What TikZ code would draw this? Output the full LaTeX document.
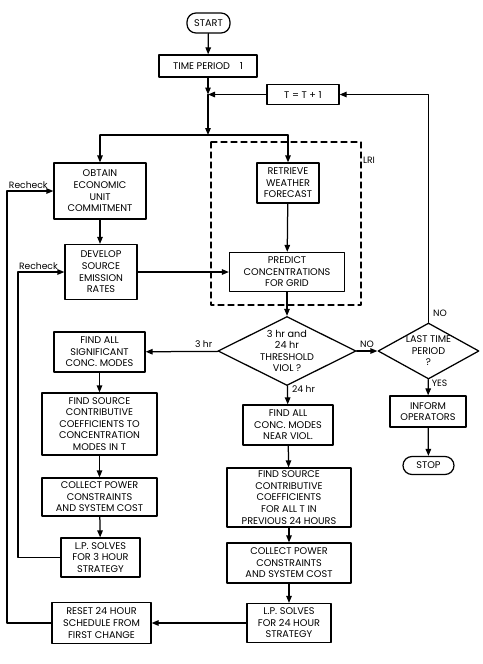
\documentclass[tikz,border=0pt]{standalone}
\usepackage{fontspec}
\setmainfont{Poppins}
\usepackage{tikz}
\usetikzlibrary{arrows.meta, calc, positioning, shapes.geometric}

\begin{document}
\begin{tikzpicture}[x=1pt, y=-1pt, line cap=round, line join=round, >={Triangle[length=7pt,width=5.5pt]},
    box/.style={draw, line width=1.25pt, align=center, inner sep=1pt, font=\fontsize{9.7}{11.6}\selectfont},
    term/.style={box, rounded corners=9pt},
    decision/.style={box, diamond, inner sep=-12pt},
    flow/.style={->, line width=1.25pt},
    lbl/.style={font=\fontsize{9.2}{10}\selectfont, inner sep=1pt}]
    \useasboundingbox (0,0) rectangle (482,664);

    % start and time loop
    \node[term, minimum width=43, minimum height=20] (start) at (208.5,23) {START};
    \node[box, minimum width=98, minimum height=22] (tp) at (208,66) {TIME PERIOD\quad 1};
    \node[box, minimum width=72, minimum height=20] (tinc) at (303,94.5) {T = T + 1};
    \coordinate (j1) at (208,94.5);
    \coordinate (j2) at (208,135);

    % emission side
    \node[box, minimum width=92, minimum height=56] (obtain) at (100,191) {OBTAIN\\ECONOMIC\\UNIT\\COMMITMENT};
    \node[box, minimum width=72, minimum height=55] (develop) at (101,272) {DEVELOP\\SOURCE\\EMISSION\\RATES};

    % LRI block
    \node[box, minimum width=62, minimum height=40] (retrieve) at (288,183) {RETRIEVE\\WEATHER\\FORECAST};
    \node[box, minimum width=115, minimum height=39] (predict) at (287,272) {PREDICT\\CONCENTRATIONS\\FOR GRID};
    \draw[line width=1.1pt, dash pattern=on 6pt off 4pt] (211,142) rectangle (361,305);
    \node[lbl] (lri) at (369,160) {LRI};

    % decisions
    \node[decision, minimum width=138, minimum height=69] (thr) at (287,351) {3 hr and\\24 hr\\THRESHOLD\\VIOL ?};
    \node[decision, minimum width=101, minimum height=56] (last) at (428.5,351) {LAST TIME\\PERIOD\\?};
    \node[box, minimum width=76, minimum height=31] (inform) at (428,411.5) {INFORM\\OPERATORS};
    \node[term, minimum width=51, minimum height=18] (stop) at (428.5,465.5) {STOP};

    % 3 hour branch
    \node[box, minimum width=91, minimum height=40] (findsig) at (99.5,352) {FIND ALL\\SIGNIFICANT\\CONC. MODES};
    \node[box, minimum width=115, minimum height=62] (srcl) at (99.5,424) {FIND SOURCE\\CONTRIBUTIVE\\COEFFICIENTS TO\\CONCENTRATION\\MODES IN T};
    \node[box, minimum width=115, minimum height=38] (colll) at (99.5,497) {COLLECT POWER\\CONSTRAINTS\\AND SYSTEM COST};
    \node[box, minimum width=79, minimum height=39] (lp3) at (100.5,557.5) {L.P. SOLVES\\FOR 3 HOUR\\STRATEGY};
    \node[box, minimum width=99, minimum height=41] (reset) at (101.5,623) {RESET 24 HOUR\\SCHEDULE FROM\\FIRST CHANGE};

    % 24 hour branch
    \node[box, minimum width=90, minimum height=40] (findall) at (288,425) {FIND ALL\\CONC. MODES\\NEAR VIOL.};
    \node[box, minimum width=124, minimum height=59] (srcr) at (289,497.5) {FIND SOURCE\\CONTRIBUTIVE\\COEFFICIENTS\\FOR ALL T IN\\PREVIOUS 24 HOURS};
    \node[box, minimum width=124, minimum height=40] (collr) at (289,563) {COLLECT POWER\\CONSTRAINTS\\AND SYSTEM COST};
    \node[box, minimum width=84, minimum height=39] (lp24) at (289,623) {L.P. SOLVES\\FOR 24 HOUR\\STRATEGY};

    % connectors
    \draw[flow] (start) -- (tp);
    \draw[flow] (tp) -- (j1);
    \draw[flow] (tinc) -- (j1);
    \draw[flow] (j1) -- (j2);
    \draw[line width=1.25pt] (obtain.north |- j2) -- (retrieve.north |- j2);
    \draw[flow] (obtain.north |- j2) -- (obtain);
    \draw[flow] (retrieve.north |- j2) -- (retrieve);
    \draw[flow] (obtain) -- (obtain.south |- develop.north);
    \draw[flow] (develop) -- (predict);
    \draw[flow] (retrieve) -- (predict);
    \draw[flow] (predict) -- (thr);
    \draw[flow] (thr) -- (last) node[lbl, above, midway, yshift=2pt] {NO};
    \draw[flow] (last.north) -- (last.north |- tinc) node[lbl, right, pos=0.04, xshift=3pt] {NO} -- (tinc);
    \draw[flow] (last) -- (inform) node[lbl, right, pos=0.25, xshift=2pt] {YES};
    \draw[flow] (inform) -- (stop);
    \draw[flow] (thr) -- (findall) node[lbl, right, pos=0.2, xshift=3pt] {24 hr};
    \draw[flow] (thr) -- (findsig) node[lbl, above, pos=0.2, yshift=2pt] {3 hr};
    \draw[flow] (findsig) -- (srcl);
    \draw[flow] (srcl) -- (colll);
    \draw[flow] (colll) -- (lp3);
    \draw[flow] (findall) -- (srcr);
    \draw[flow] (srcr) -- (collr);
    \draw[flow] (collr) -- (lp24);
    \draw[flow] (lp24) -- (reset);

    % recheck loops
    \coordinate (rk1) at (7,0);
    \coordinate (rk2) at (18,0);
    \draw[flow] (lp3.west) -- (lp3.west -| rk2) |- (develop.west) node[lbl, above, pos=0.72, yshift=1pt] {Recheck};
    \draw[flow] (reset.west) -- (reset.west -| rk1) |- (obtain.west) node[lbl, above, pos=0.73, yshift=1pt] {Recheck};
\end{tikzpicture}
\end{document}
